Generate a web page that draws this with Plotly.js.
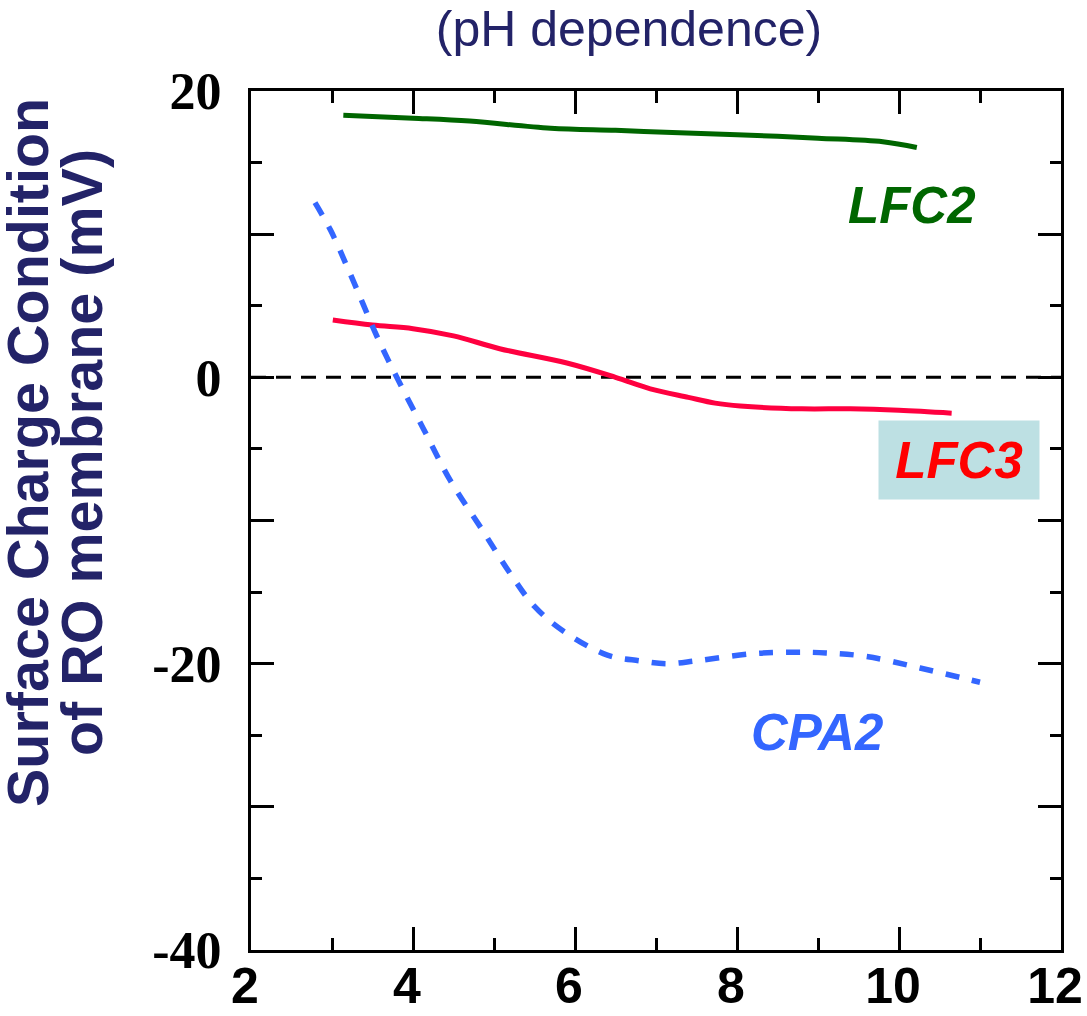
<!DOCTYPE html>
<html>
<head>
<meta charset="utf-8">
<script src="https://cdn.plot.ly/plotly-3.0.1.min.js"></script>
<style>html,body{margin:0;padding:0;background:#fff;}#chart{width:1087px;height:1016px;}</style>
</head>
<body>
<div id="chart"></div>
<script>
// ---- data ----
const lfc2X = [3.14, 4.0, 4.7, 5.7, 6.5, 7.2, 8.0, 9.0, 9.8, 10.22];
const lfc2Y = [18.3, 18.1, 17.9, 17.4, 17.25, 17.1, 16.95, 16.7, 16.45, 16.05];

const lfc3X = [3.01, 3.5, 4.0, 4.5, 5.07, 5.9, 6.5, 6.93, 7.4, 7.73, 8.04, 8.8, 9.4, 10.0, 10.65];
const lfc3Y = [4.0, 3.65, 3.4, 2.9, 2.0, 1.0, 0.0, -0.8, -1.4, -1.8, -2.0, -2.2, -2.2, -2.3, -2.5];

const cpa2X = [2.79, 2.98, 3.22, 3.56, 3.8, 4.12, 4.46, 4.86, 5.2, 5.5, 5.85, 6.4, 6.8, 7.14, 7.5, 8.2, 8.7, 9.1, 9.6, 10.26, 11.0];
const cpa2Y = [12.2, 10.3, 7.3, 2.8, 0.0, -3.5, -7.2, -10.7, -13.7, -16.0, -17.7, -19.4, -19.8, -20.0, -19.8, -19.3, -19.2, -19.25, -19.5, -20.3, -21.3];

const xTickVals = [2, 4, 6, 8, 10, 12];
const xTickText = ['2', '4', '6', '8', '10', '12'];
const yTickVals = [-40, -30, -20, -10, 0, 10, 20];
const yTickText = ['-40', '', '-20', '', '0', '', '20'];

const seriesNames = ['LFC2', 'LFC3', 'CPA2'];
const titleText = '(pH dependence)';
const yTitleLine1 = 'Surface Charge Condition';
const yTitleLine2 = 'of RO membrane (mV)';

// ---- styles ----
const navy = '#232368';
const traces = [
  {x: lfc2X, y: lfc2Y, name: seriesNames[0], mode: 'lines',
   line: {color: '#006600', width: 5, shape: 'spline'}},
  {x: lfc3X, y: lfc3Y, name: seriesNames[1], mode: 'lines',
   line: {color: '#ff0040', width: 5, shape: 'spline'}},
  {x: cpa2X, y: cpa2Y, name: seriesNames[2], mode: 'lines',
   line: {color: '#3366ff', width: 5.5, shape: 'spline', dash: '14px,13px'}}
];

const labelFont = {family: 'Liberation Sans, Arial, sans-serif', size: 51, weight: 'bold', style: 'italic'};

const layout = {
  width: 1087, height: 1016,
  margin: {l: 251, r: 26, t: 91, b: 66},
  paper_bgcolor: '#ffffff', plot_bgcolor: '#ffffff',
  showlegend: false,
  title: {text: titleText, x: 629/1087, xanchor: 'center', y: 1 - 28/1016, yanchor: 'middle',
          font: {family: 'Liberation Sans, Arial, sans-serif', size: 50, color: navy}},
  xaxis: {
    range: [2, 12], showgrid: false, zeroline: false,
    showline: true, linecolor: '#000', linewidth: 3, mirror: 'ticks',
    ticks: 'inside', ticklen: 23, tickwidth: 3, tickcolor: '#000',
    tickvals: xTickVals, ticktext: xTickText,
    minor: {dtick: 1, ticks: 'inside', ticklen: 12, tickwidth: 3, tickcolor: '#000', showgrid: false},
    tickfont: {family: 'Liberation Sans, Arial, sans-serif', size: 50, weight: 'bold', color: '#000'},
    ticklabelstandoff: -10,
    ticklabelshift: -6,
    ticklabeloverflow: 'allow'
  },
  yaxis: {
    range: [-40, 20], showgrid: false, zeroline: false,
    showline: true, linecolor: '#000', linewidth: 3, mirror: 'ticks',
    ticks: 'inside', ticklen: 23, tickwidth: 3, tickcolor: '#000',
    tickvals: yTickVals, ticktext: yTickText,
    minor: {dtick: 5, ticks: 'inside', ticklen: 11, tickwidth: 3, tickcolor: '#000', showgrid: false},
    tickfont: {family: 'Liberation Serif, Times New Roman, serif', size: 52, weight: 'bold', color: '#000'},
    ticklabelstandoff: 16,
    ticklabeloverflow: 'allow'
  },
  shapes: [
    {type: 'line', xref: 'paper', x0: 0, x1: 1, yref: 'y', y0: 0, y1: 0, layer: 'below',
     line: {color: '#000', width: 3, dash: '15px,10px'}}
  ],
  annotations: [
    {text: yTitleLine1, textangle: -90, xref: 'paper', yref: 'paper',
     x: (28-251)/810, y: (950-453)/859, xanchor: 'center', yanchor: 'middle', showarrow: false,
     font: {family: 'Liberation Sans, Arial, sans-serif', size: 57.5, weight: 'bold', color: navy}},
    {text: yTitleLine2, textangle: -90, xref: 'paper', yref: 'paper',
     x: (82-251)/810, y: (950-453)/859, xanchor: 'center', yanchor: 'middle', showarrow: false,
     font: {family: 'Liberation Sans, Arial, sans-serif', size: 57.5, weight: 'bold', color: navy}},
    {text: seriesNames[0], xref: 'x', yref: 'y', x: 10.16, y: 12.0, showarrow: false,
     xanchor: 'center', yanchor: 'middle', font: Object.assign({color: '#006600'}, labelFont)},
    {text: seriesNames[1], xref: 'x', yref: 'y', x: 10.74, y: -5.8, showarrow: false,
     xanchor: 'center', yanchor: 'middle', bgcolor: '#bde0e3', width: 160, height: 78, borderpad: 0,
     font: Object.assign({color: '#ff0000'}, labelFont)},
    {text: seriesNames[2], xref: 'x', yref: 'y', x: 8.99, y: -24.8, showarrow: false,
     xanchor: 'center', yanchor: 'middle', font: Object.assign({color: '#3366ff'}, labelFont)}
  ]
};

Plotly.newPlot('chart', traces, layout, {displayModeBar: false, staticPlot: true});
</script>
</body>
</html>
